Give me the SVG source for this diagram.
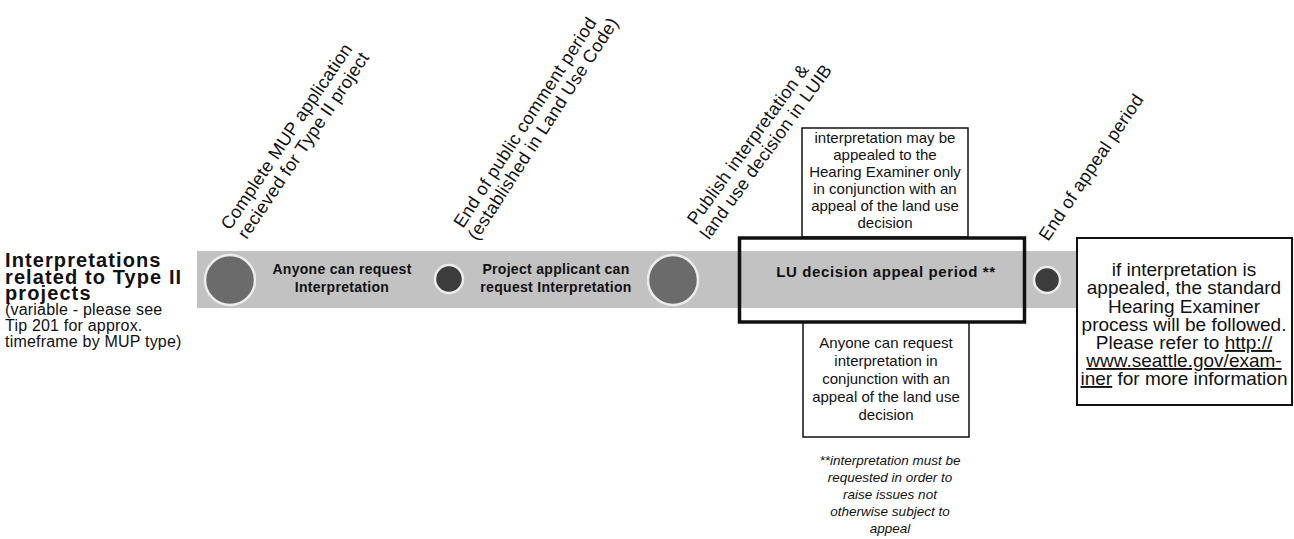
<svg xmlns="http://www.w3.org/2000/svg" width="1294" height="539" viewBox="0 0 1294 539">
<style>
text{font-family:"Liberation Sans",Arial,sans-serif;fill:#111}
.rot{font-size:18px;letter-spacing:0.3px}
.band-t{font-size:14px;font-weight:bold;text-anchor:middle;letter-spacing:0.3px}
.box-t{font-size:15px;text-anchor:middle}
.rb-t{font-size:19px;text-anchor:middle}
.foot{font-size:13.5px;font-style:italic;text-anchor:middle}
.title{font-size:20px;font-weight:bold;letter-spacing:1.1px}
.sub{font-size:16px;letter-spacing:0.2px}
.bigc{fill:#6b6b6b;stroke:#ececec;stroke-width:2.5}
.smc{fill:#3c3c3c;stroke:#ececec;stroke-width:2.5}
.box{fill:#fff;stroke:#111;stroke-width:1.5}
</style>
<rect width="1294" height="539" fill="#fff"/>

<g id="title">
<text class="title" x="5" y="267">Interpretations</text>
<text class="title" x="5" y="284">related to Type II</text>
<text class="title" x="5" y="300">projects</text>
<text class="sub" x="5" y="315">(variable - please see</text>
<text class="sub" x="5" y="331">Tip 201 for approx.</text>
<text class="sub" x="5" y="347">timeframe by MUP type)</text>
</g>

<g id="connectors">
<rect id="band" x="197" y="251" width="880" height="57" fill="#c2c2c2"/>
</g>

<g id="m1">
<circle class="bigc" cx="230" cy="280" r="25"/>
<text class="rot" transform="translate(230,231) rotate(-56)"><tspan x="0" y="0">Complete MUP application</tspan><tspan x="2" y="19">recieved for Type II project</tspan></text>
</g>
<g id="p1">
<text class="band-t" x="342" y="274">Anyone can request</text>
<text class="band-t" x="342" y="292">Interpretation</text>
</g>
<g id="m2">
<circle class="smc" cx="449" cy="279" r="14"/>
<text class="rot" font-size="17" transform="translate(463,229) rotate(-57)"><tspan x="0" y="0">End of public comment period</tspan><tspan x="-3" y="18.5">(established in Land Use Code)</tspan></text>
</g>
<g id="p2">
<text class="band-t" x="556" y="274">Project applicant can</text>
<text class="band-t" x="556" y="292">request Interpretation</text>
</g>
<g id="m3">
<circle class="bigc" cx="673" cy="280" r="25"/>
<text class="rot" transform="translate(696,226) rotate(-54)"><tspan x="0" y="0">Publish interpretation &amp;</tspan><tspan x="-4" y="19">land use decision in LUIB</tspan></text>
</g>
<g id="upper">
<rect class="box" x="802" y="128" width="166" height="109"/>
<text class="box-t"><tspan x="885" y="143">interpretation may be</tspan><tspan x="885" y="160">appealed to the</tspan><tspan x="885" y="177">Hearing Examiner only</tspan><tspan x="885" y="194">in conjunction with an</tspan><tspan x="885" y="211">appeal of the land use</tspan><tspan x="885" y="228">decision</tspan></text>
</g>
<g id="lower">
<rect class="box" x="803" y="322" width="166" height="115"/>
<text class="box-t"><tspan x="886" y="348">Anyone can request</tspan><tspan x="886" y="366">interpretation in</tspan><tspan x="886" y="384">conjunction with an</tspan><tspan x="886" y="402">appeal of the land use</tspan><tspan x="886" y="420">decision</tspan></text>
</g>
<g id="appeal">
<rect x="739.5" y="238" width="285" height="84" fill="none" stroke="#111" stroke-width="3.5"/>
<text x="886" y="277" text-anchor="middle" font-size="15" font-weight="bold" letter-spacing="0.6">LU decision appeal period **</text>
</g>
<g id="footnote">
<text class="foot"><tspan x="890" y="465">**interpretation must be</tspan><tspan x="890" y="482">requested in order to</tspan><tspan x="890" y="499">raise issues not</tspan><tspan x="890" y="516">otherwise subject to</tspan><tspan x="890" y="533">appeal</tspan></text>
</g>
<g id="m4">
<circle class="smc" cx="1047" cy="280" r="13"/>
<text class="rot" transform="translate(1048,242) rotate(-56)">End of appeal period</text>
</g>
<g id="right">
<rect x="1077" y="238" width="215" height="167" fill="#fff" stroke="#111" stroke-width="2"/>
<text class="rb-t"><tspan x="1184" y="276">if interpretation is</tspan><tspan x="1184" y="294">appealed, the standard</tspan><tspan x="1184" y="313">Hearing Examiner</tspan><tspan x="1184" y="331">process will be followed.</tspan><tspan x="1184" y="349">Please refer to <tspan text-decoration="underline">http://</tspan></tspan><tspan x="1184" y="367" text-decoration="underline">www.seattle.gov/exam-</tspan><tspan x="1184" y="385"><tspan text-decoration="underline">iner</tspan> for more information</tspan></text>
</g>
</svg>
